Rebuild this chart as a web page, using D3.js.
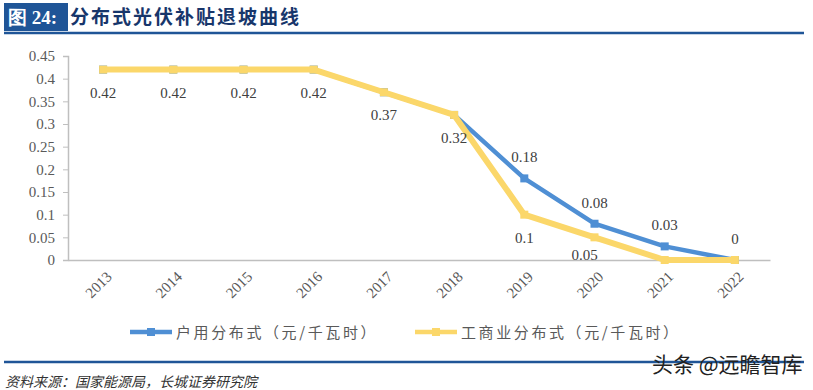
<!DOCTYPE html>
<html>
<head>
<meta charset="utf-8">
<script src="https://cdn.jsdelivr.net/npm/d3@7"></script>
<style>
  body { margin: 0; background: #fff; }
  svg { display: block; }
</style>
</head>
<body>
<div id="chart"></div>
<script>
const years = ["2013", "2014", "2015", "2016", "2017", "2018", "2019", "2020", "2021", "2022"];
const household = [0.42, 0.42, 0.42, 0.42, 0.37, 0.32, 0.18, 0.08, 0.03, 0];
const commercial = [0.42, 0.42, 0.42, 0.42, 0.37, 0.32, 0.1, 0.05, 0, 0];
const yTicks = [0, 0.05, 0.1, 0.15, 0.2, 0.25, 0.3, 0.35, 0.4, 0.45];
const seriesNames = ["户用分布式（元/千瓦时）", "工商业分布式（元/千瓦时）"];

const W = 813, H = 390;
const blue = "#4f8fd4", yellow = "#fbd76a";
const serif = "'Liberation Serif', 'Times New Roman', serif";
const cjk = "'Noto Sans CJK SC', sans-serif";

const svg = d3.select("#chart").append("svg")
    .attr("width", W)
    .attr("height", H);

// header
svg.append("rect").attr("x", 4).attr("y", 3).attr("width", 64).attr("height", 28).attr("fill", "#1f5597");
svg.append("text").attr("x", 8).attr("y", 24)
    .attr("fill", "#fff").style("font", `bold 19px ${serif}`)
    .text("图 24:");
svg.append("text").attr("x", 70).attr("y", 24)
    .attr("fill", "#17366b").style("font-family", cjk).style("font-weight", "bold").style("font-size", "19px")
    .attr("letter-spacing", "2")
    .text("分布式光伏补贴退坡曲线");
svg.append("line").attr("x1", 4).attr("x2", 804).attr("y1", 33).attr("y2", 33)
    .attr("stroke", "#1f5597").attr("stroke-width", 2.5);

// scales
const x = d3.scaleBand().domain(years).range([68, 770]);
const y = d3.scaleLinear().domain([0, 0.45]).range([260, 56]);
const cx = d => x(d) + x.bandwidth() / 2;

// y axis
const yAxis = svg.append("g").attr("transform", "translate(68,0)")
    .call(d3.axisLeft(y).tickValues(yTicks).tickSize(5).tickPadding(8).tickFormat(d => d3.format("")(+d.toFixed(2))));
yAxis.select(".domain").attr("stroke", "#bfbfbf").attr("stroke-width", 1.5);
yAxis.selectAll(".tick line").attr("stroke", "#bfbfbf");
yAxis.selectAll(".tick text").attr("fill", "#595959").style("font", `15px ${serif}`);

// x axis
const xAxis = svg.append("g").attr("transform", "translate(0,260)")
    .call(d3.axisBottom(x).tickSize(0).tickSizeOuter(0));
xAxis.select(".domain").attr("stroke", "#bfbfbf").attr("stroke-width", 1.5);
xAxis.selectAll(".tick text")
    .attr("fill", "#595959").style("font", `15px ${serif}`)
    .attr("text-anchor", "end")
    .attr("transform", "translate(6,14) rotate(-45)")
    .attr("dy", "0.35em").attr("y", 0).attr("x", 0);

const line = d3.line().x((d, i) => cx(years[i])).y(d => y(d));

function drawSeries(values, color, width) {
    svg.append("path").datum(values)
        .attr("d", line)
        .attr("fill", "none")
        .attr("stroke", color)
        .attr("stroke-width", width)
        .attr("stroke-linejoin", "round");
    svg.append("g").selectAll("rect").data(values).join("rect")
        .attr("x", (d, i) => cx(years[i]) - 4)
        .attr("y", d => y(d) - 4)
        .attr("width", 8).attr("height", 8)
        .attr("fill", color);
}
drawSeries(household, blue, 4.5);
drawSeries(commercial, yellow, 6);

// data labels
const labelStyle = `15px ${serif}`;
svg.append("g").selectAll("text")
    .data(household.map((v, i) => ({v, i})).filter(d => d.i >= 6))
    .join("text")
    .attr("x", d => cx(years[d.i]))
    .attr("y", d => y(d.v) - 16)
    .attr("text-anchor", "middle")
    .attr("fill", "#404040").style("font", labelStyle)
    .text(d => d.v);

svg.append("g").selectAll("text")
    .data(commercial.map((v, i) => ({v, i})).filter(d => d.v > 0))
    .join("text")
    .attr("x", d => cx(years[d.i]) - (d.i === 7 ? 10 : 0))
    .attr("y", d => Math.min(y(d.v) + 28, 260))
    .attr("text-anchor", "middle")
    .attr("fill", "#404040").style("font", labelStyle)
    .text(d => d.v);

// legend
const legend = svg.append("g");
[[130, blue], [415, yellow]].forEach(([lx, c], k) => {
    legend.append("line").attr("x1", lx).attr("x2", lx + 42).attr("y1", 332).attr("y2", 332)
        .attr("stroke", c).attr("stroke-width", 4.5);
    legend.append("rect").attr("x", lx + 17).attr("y", 328).attr("width", 8).attr("height", 8).attr("fill", c);
    legend.append("text").attr("x", lx + 46).attr("y", 338)
        .attr("fill", "#595959").style("font-family", cjk).style("font-size", "15px")
        .attr("letter-spacing", "2.6")
        .text(seriesNames[k]);
});

// footer
svg.append("line").attr("x1", 4).attr("x2", 804).attr("y1", 362).attr("y2", 362)
    .attr("stroke", "#1f5597").attr("stroke-width", 2.5);
svg.append("text").attr("x", 5).attr("y", 387)
    .attr("fill", "#333").style("font-family", cjk).style("font-size", "14px").style("font-style", "italic")
    .text("资料来源：国家能源局，长城证券研究院");
svg.append("text").attr("x", 652).attr("y", 372)
    .attr("fill", "#222").style("font-family", cjk).style("font-size", "21px")
    .text("头条 @远瞻智库");
</script>
</body>
</html>
